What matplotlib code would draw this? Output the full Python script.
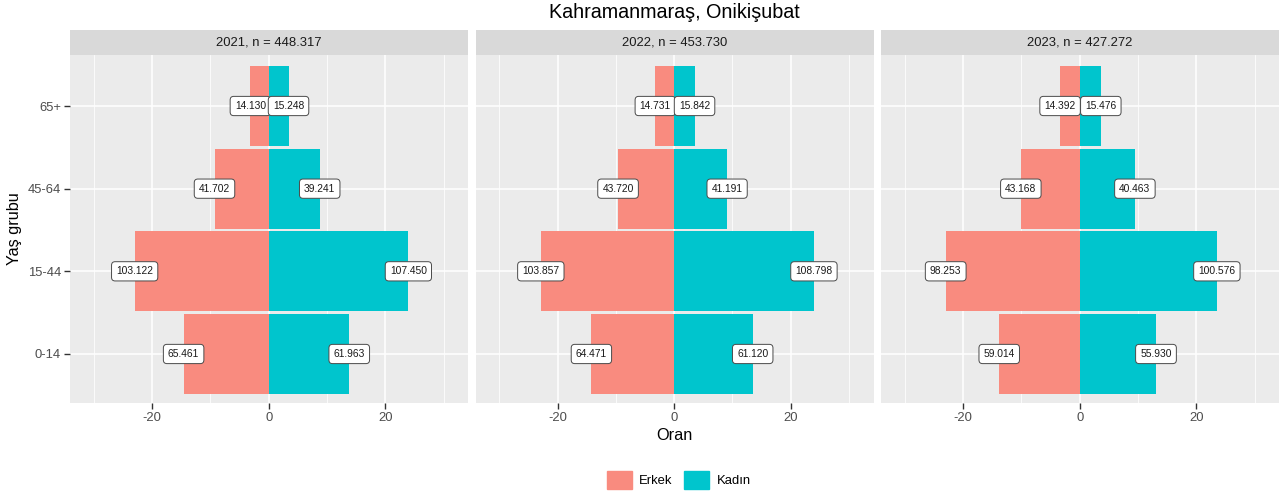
import numpy as np
import matplotlib.pyplot as plt
from matplotlib.patches import Patch, Rectangle

plt.rcParams['font.family'] = ['Liberation Sans', 'DejaVu Sans']

years = [2021, 2022, 2023]
age_groups = ["0-14", "15-44", "45-64", "65+"]

# counts per age group (0-14, 15-44, 45-64, 65+)
erkek = {
    2021: [65461, 103122, 41702, 14130],
    2022: [64471, 103857, 43720, 14731],
    2023: [59014, 98253, 43168, 14392],
}
kadin = {
    2021: [61963, 107450, 39241, 15248],
    2022: [61120, 108798, 41191, 15842],
    2023: [55930, 100576, 40463, 15476],
}

col_erkek = "#F98B7F"
col_kadin = "#00C5CD"


def fmt(v):
    return f"{v:,}".replace(",", ".")


W, H = 1281, 496
fig = plt.figure(figsize=(W / 100, H / 100), dpi=100)

panel_x = [(70, 468), (475.5, 873.5), (881, 1279)]
top, bottom = 55, 403
strip_h = 25

for i, yr in enumerate(years):
    x0, x1 = panel_x[i]
    ax = fig.add_axes([x0 / W, 1 - bottom / H, (x1 - x0) / W, (bottom - top) / H])
    ax.set_facecolor("#EBEBEB")
    for s in ax.spines.values():
        s.set_visible(False)

    e = np.array(erkek[yr])
    k = np.array(kadin[yr])
    n = e.sum() + k.sum()
    e_pct = e / n * 100
    k_pct = k / n * 100
    ypos = np.arange(len(age_groups))

    ax.set_xlim(-34.1, 34.2)
    ax.set_ylim(-0.593, 3.617)
    ax.set_xticks([-20, 0, 20])
    ax.set_xticks([-30, -10, 10, 30], minor=True)
    ax.set_yticks(ypos)
    ax.grid(True, which="major", color="white", lw=1.1)
    ax.grid(True, which="minor", axis="x", color="white", lw=0.55)
    ax.set_axisbelow(True)

    ax.barh(ypos, -e_pct, height=0.97, color=col_erkek, zorder=2)
    ax.barh(ypos, k_pct, height=0.97, color=col_kadin, zorder=2)

    for j in range(len(age_groups)):
        for xv, cnt in ((-e_pct[j], e[j]), (k_pct[j], k[j])):
            ax.text(xv, ypos[j], fmt(cnt), ha="center", va="center", fontsize=7.4,
                    color="#1A1A1A", zorder=4,
                    bbox=dict(boxstyle="round,pad=0.45,rounding_size=0.35",
                              fc="white", ec="#4A4A4A", lw=0.7))

    ax.tick_params(axis="both", which="major", length=4, width=1, color="#333333",
                   labelsize=9.4, labelcolor="#4D4D4D", pad=2.5)
    ax.tick_params(axis="both", which="minor", length=0)
    ax.set_xticklabels(["-20", "0", "20"])
    if i == 0:
        ax.set_yticklabels(age_groups)
    else:
        ax.tick_params(axis="y", left=False, labelleft=False)

    # facet strip
    fig.patches.append(Rectangle((x0 / W, 1 - top / H), (x1 - x0) / W, strip_h / H,
                                 transform=fig.transFigure, fc="#D9D9D9", ec="none"))
    fig.text((x0 + x1) / 2 / W, 1 - (top - strip_h / 2) / H, f"{yr}, n = {fmt(n)}",
             ha="center", va="center", fontsize=9.4, color="#1A1A1A")

fig.text(674.5 / W, 1 - 12 / H, "Kahramanmaraş, Onikişubat", ha="center", va="center",
         fontsize=14.2, color="black")
fig.text(674.5 / W, 1 - 435 / H, "Oran", ha="center", va="center", fontsize=11.7)
fig.text(15 / W, 1 - 229 / H, "Yaş grubu", ha="center", va="center", rotation=90,
         fontsize=11.7)

handles = [Patch(color=col_erkek, label="Erkek"), Patch(color=col_kadin, label="Kadın")]
fig.legend(handles=handles, loc="center", bbox_to_anchor=(679 / W, 1 - 480 / H), ncol=2,
           frameon=False, fontsize=9.4, handlelength=1.85, handleheight=1.85,
           handletextpad=0.6, columnspacing=0.9, borderaxespad=0)

fig.savefig("out.png", dpi=100)
